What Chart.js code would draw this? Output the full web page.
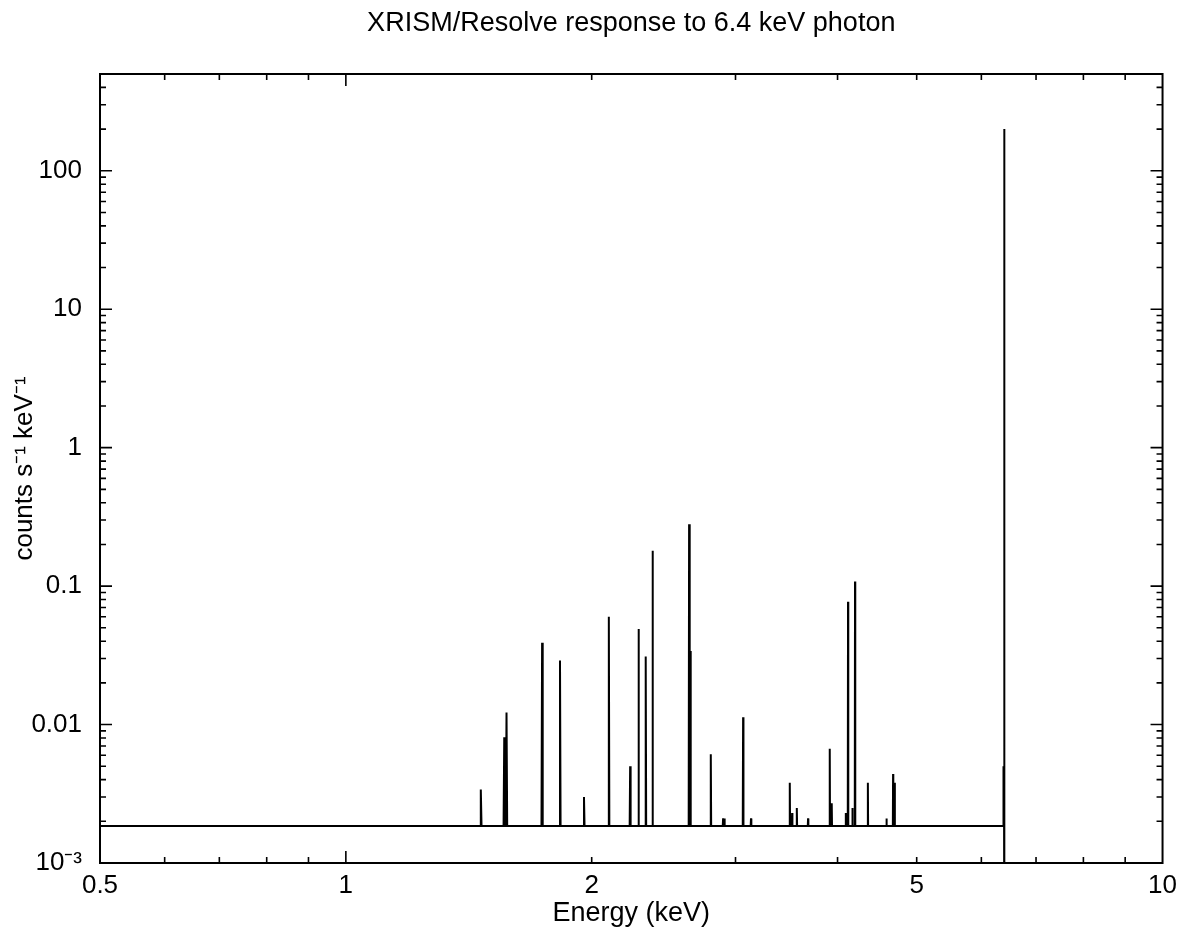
<!DOCTYPE html>
<html>
<head>
<meta charset="utf-8">
<title>XRISM/Resolve response to 6.4 keV photon</title>
<script src="https://cdn.jsdelivr.net/npm/chart.js@4.4.1/dist/chart.umd.min.js"></script>
<style>
  html, body { margin: 0; padding: 0; background: #fff; }
  #wrap { width: 1184px; height: 933px; }
</style>
</head>
<body>
<div id="wrap"><canvas id="resposta"></canvas></div>
<script>
// continuum level and escape/fluorescence lines (keV, counts s^-1 keV^-1)
const baseLevel = 0.00185;
const lineEnergies = [1.463, 1.563, 1.573, 1.739, 1.829, 1.957, 2.099, 2.229, 2.282, 2.329,
                      2.374, 2.632, 2.641, 2.798, 2.897, 2.908, 3.065, 3.134, 3.496, 3.519,
                      3.566, 3.681, 3.913, 3.935, 4.093, 4.120, 4.171, 4.202, 4.357, 4.592,
                      4.678, 4.700, 6.385];
const lineHeights  = [0.0034, 0.0081, 0.0122, 0.039, 0.029, 0.0030, 0.060, 0.0050, 0.049, 0.031,
                      0.18, 0.28, 0.034, 0.0061, 0.0021, 0.0021, 0.0113, 0.0021, 0.0038, 0.0023,
                      0.0025, 0.0021, 0.0067, 0.0027, 0.0023, 0.077, 0.0025, 0.108, 0.0038, 0.0021,
                      0.0044, 0.0038, 0.0050];
const mainEnergy = 6.4;
const mainHeight = 200;
const lineHalfWidth = 0.003;   // keV
const floorLevel = 1e-4;       // below the plotted range (no counts above 6.4 keV)
const eMin = 0.5, eMax = 10;
const yMin = 0.001, yMax = 500;

const xTickValues = [0.5, 1, 2, 5, 10];
const xTickLabels = ['0.5', '1', '2', '5', '10'];
const yTickValues = [0.001, 0.01, 0.1, 1, 10, 100];
const yTickLabels = ['10\u207B\u00B3', '0.01', '0.1', '1', '10', '100'];

const xLongTicks = [1];
const xShortTicks = [0.6, 0.7, 0.8, 0.9, 2, 3, 4, 5, 6, 7, 8, 9];
const yLongTicks = yTickValues;
const yShortTicks = [];
yTickValues.forEach(d => {
    for (let m = 2; m <= 9; m++) {
        if (d * m < yMax) yShortTicks.push(d * m);
    }
});

// spectrum as a polyline: continuum with narrow lines on top
const espectro = [{ x: eMin, y: baseLevel }];
lineEnergies.forEach((e, i) => {
    espectro.push({ x: e - lineHalfWidth, y: baseLevel });
    espectro.push({ x: e, y: lineHeights[i] });
    espectro.push({ x: e + lineHalfWidth, y: baseLevel });
});
espectro.push({ x: mainEnergy - lineHalfWidth, y: baseLevel });
espectro.push({ x: mainEnergy, y: mainHeight });
espectro.push({ x: mainEnergy + lineHalfWidth, y: floorLevel });
espectro.push({ x: eMax, y: floorLevel });

const familia = "'Liberation Sans', Arial, Helvetica, sans-serif";
const fonteTicks = { family: familia, size: 26, lineHeight: 1.2 };
const fonteTitulo = { family: familia, size: 27, lineHeight: 1.2, weight: 'normal' };

// frame and inward ticks on all four sides
const moldura = {
    id: 'moldura',
    afterDatasetsDraw(chart) {
        const { ctx, chartArea: a, scales } = chart;
        const x = scales.x, y = scales.y;
        ctx.save();
        ctx.strokeStyle = '#000';
        ctx.lineWidth = 1.6;
        ctx.beginPath();
        const tickX = (vals, len) => vals.forEach(v => {
            const px = x.getPixelForValue(v);
            ctx.moveTo(px, a.bottom); ctx.lineTo(px, a.bottom - len);
            ctx.moveTo(px, a.top); ctx.lineTo(px, a.top + len);
        });
        const tickY = (vals, len) => vals.forEach(v => {
            const py = y.getPixelForValue(v);
            ctx.moveTo(a.left, py); ctx.lineTo(a.left + len, py);
            ctx.moveTo(a.right, py); ctx.lineTo(a.right - len, py);
        });
        tickX(xLongTicks, 12);
        tickX(xShortTicks, 6);
        tickY(yLongTicks, 12);
        tickY(yShortTicks, 6);
        ctx.stroke();
        ctx.lineWidth = 2;
        ctx.strokeRect(a.left, a.top, a.right - a.left, a.bottom - a.top);
        ctx.restore();
    }
};

new Chart(document.getElementById('resposta'), {
    type: 'line',
    data: {
        datasets: [{
            data: espectro,
            borderColor: '#000',
            borderWidth: 2,
            pointRadius: 0,
            fill: false,
            tension: 0
        }]
    },
    options: {
        responsive: true,
        maintainAspectRatio: false,
        animation: false,
        events: [],
        layout: { padding: { left: 0, right: 21, top: 0, bottom: 0 } },
        scales: {
            x: {
                type: 'logarithmic',
                min: eMin,
                max: eMax,
                afterBuildTicks: s => { s.ticks = xTickValues.map(v => ({ value: v })); },
                afterFit: s => { s.height = 70; },
                ticks: {
                    color: '#000',
                    font: fonteTicks,
                    padding: 7,
                    maxRotation: 0,
                    autoSkip: false,
                    callback: v => xTickLabels[xTickValues.indexOf(v)]
                },
                grid: { display: false, drawTicks: false },
                border: { display: false },
                title: {
                    display: true,
                    text: 'Energy (keV)',
                    color: '#000',
                    font: fonteTitulo,
                    padding: { top: 0, bottom: 3 }
                }
            },
            y: {
                type: 'logarithmic',
                min: yMin,
                max: yMax,
                afterBuildTicks: s => { s.ticks = yTickValues.map(v => ({ value: v })); },
                afterFit: s => { s.width = 100; },
                ticks: {
                    color: '#000',
                    font: fonteTicks,
                    padding: 18,
                    autoSkip: false,
                    callback: v => yTickLabels[yTickValues.indexOf(v)]
                },
                grid: { display: false, drawTicks: false },
                border: { display: false },
                title: {
                    display: true,
                    text: 'counts s\u207B\u00B9 keV\u207B\u00B9',
                    color: '#000',
                    font: fonteTicks,
                    padding: { top: 9, bottom: 0 }
                }
            }
        },
        plugins: {
            legend: { display: false },
            tooltip: { enabled: false },
            title: {
                display: true,
                fullSize: false,
                text: 'XRISM/Resolve response to 6.4 keV photon',
                color: '#000',
                font: fonteTitulo,
                padding: { top: 7, bottom: 34.6 }
            }
        }
    },
    plugins: [moldura]
});
</script>
</body>
</html>
